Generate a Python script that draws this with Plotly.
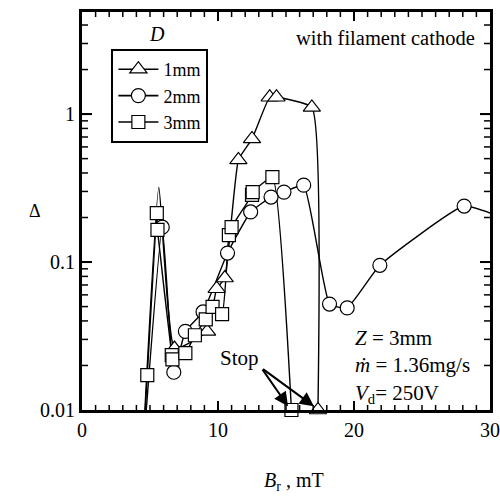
import plotly.graph_objects as go
import math

# ---- data ----
x_1mm = [4.4, 5.65, 6.8, 9.2, 9.9, 10.5, 11.5, 12.5, 13.8, 14.3, 16.9, 17.35]
y_1mm = [0.004, 0.32, 0.026, 0.034, 0.066, 0.078, 0.49, 0.68, 1.30, 1.30, 1.11, 0.01]
hidden_1mm = [0, 1]

x_2mm = [4.4, 5.9, 6.75, 7.6, 8.9, 10.7, 12.4, 13.9, 14.85, 16.3, 18.2, 19.5, 21.9, 28.1, 31.5]
y_2mm = [0.004, 0.172, 0.018, 0.034, 0.046, 0.115, 0.218, 0.275, 0.297, 0.331, 0.052, 0.049, 0.095, 0.239, 0.19]
hidden_2mm = [0, 14]

x_3mm = [4.4, 4.8, 5.5, 5.55, 6.6, 6.65, 7.6, 8.3, 9.1, 9.6, 10.3, 10.8, 11.0, 12.5, 12.55, 14.0, 15.4]
y_3mm = [0.004, 0.0172, 0.214, 0.165, 0.0235, 0.022, 0.0242, 0.032, 0.041, 0.0497, 0.0445, 0.152, 0.172, 0.284, 0.297, 0.375, 0.01]
hidden_3mm = [0]

x_major = [0, 10, 20, 30]
x_minor = [v for v in range(1, 30) if v % 10]
y_major = [0.01, 0.1, 1]
y_minor = [v * 10.0 ** e for e in (-2, -1, 0) for v in range(2, 10) if v * 10.0 ** e < 5]

X_RANGE = [0, 30]
Y_RANGE = [-2, 0.69]

series = [
    ("1mm", x_1mm, y_1mm, hidden_1mm, "triangle-up", 15),
    ("2mm", x_2mm, y_2mm, hidden_2mm, "circle", 14),
    ("3mm", x_3mm, y_3mm, hidden_3mm, "square", 13),
]

FONT = "Liberation Serif"
W, H = 500, 496
ML, MR, MT, MB = 82, 10, 12, 86
PW, PH = W - ML - MR, H - MT - MB

fig = go.Figure()

for name, xs, ys, hid, sym, sz in series:
    fig.add_trace(go.Scatter(x=xs, y=ys, mode="lines",
                             line=dict(color="black", width=1.4, shape="spline", smoothing=0.4),
                             showlegend=False, hoverinfo="skip"))
for name, xs, ys, hid, sym, sz in series:
    mx = [x for i, x in enumerate(xs) if i not in hid]
    my = [y for i, y in enumerate(ys) if i not in hid]
    fig.add_trace(go.Scatter(x=mx, y=my, mode="markers", cliponaxis=False,
                             marker=dict(symbol=sym, size=sz, color="white",
                                         line=dict(color="black", width=1.2)),
                             showlegend=False))
for name, xs, ys, hid, sym, sz in series:
    fig.add_trace(go.Scatter(x=[None], y=[None], mode="lines+markers", name=name,
                             line=dict(color="black", width=1.6),
                             marker=dict(symbol=sym, size=sz, color="white",
                                         line=dict(color="black", width=1.2))))

# tick marks on all four sides (inside), placed from the axis tick values
shapes = []
def xtick(v, length, width):
    px = (v - X_RANGE[0]) / (X_RANGE[1] - X_RANGE[0])
    f = length / PH
    for a, b in ((0, f), (1, 1 - f)):
        shapes.append(dict(type="line", xref="paper", yref="paper", x0=px, x1=px, y0=a, y1=b,
                           line=dict(color="black", width=width), layer="above"))
def ytick(v, length, width):
    py = (math.log10(v) - Y_RANGE[0]) / (Y_RANGE[1] - Y_RANGE[0])
    f = length / PW
    for a, b in ((0, f), (1, 1 - f)):
        shapes.append(dict(type="line", xref="paper", yref="paper", x0=a, x1=b, y0=py, y1=py,
                           line=dict(color="black", width=width), layer="above"))
for v in x_major[1:-1]:
    xtick(v, 9, 2)
for v in x_minor:
    xtick(v, 5, 1.5)
for v in y_major[1:]:
    ytick(v, 10, 2)
for v in y_minor:
    ytick(v, 6, 1.5)

anns = [
    dict(xref="paper", yref="paper", x=0.184, y=0.945, text="<i>D</i>", showarrow=False,
         font=dict(size=20), xanchor="center", yanchor="middle"),
    dict(xref="paper", yref="paper", x=0.743, y=0.935, text="with filament cathode", showarrow=False,
         font=dict(size=20.5), xanchor="center", yanchor="middle"),
    dict(xref="paper", yref="paper", x=-0.115, y=0.50, text="Δ", showarrow=False,
         font=dict(size=18), xanchor="center", yanchor="middle"),
    dict(xref="paper", yref="paper", x=0.52, y=-0.18, text="<i>B</i><sub>r</sub> , mT", showarrow=False,
         font=dict(size=20), xanchor="center", yanchor="middle"),
    dict(xref="paper", yref="paper", x=0.665, y=0.11,
         text="<i>Z</i> = 3mm<br><i>ṁ</i> = 1.36mg/s<br><i>V</i><sub>d</sub>= 250V",
         showarrow=False, align="left", font=dict(size=21), xanchor="left", yanchor="middle"),
    dict(x=11.6, y=math.log10(0.0224), text="Stop", showarrow=False,
         font=dict(size=21), xanchor="center", yanchor="middle"),
]
for hx in (15.15, 17.05):
    anns.append(dict(x=hx, y=math.log10(0.0106), ax=13.2, ay=math.log10(0.0192),
                     axref="x", ayref="y", xref="x", yref="y", text="", showarrow=True,
                     arrowhead=2, arrowsize=1.4, arrowwidth=2, arrowcolor="black"))

fig.update_layout(
    template="none",
    width=W, height=H,
    margin=dict(l=ML, r=MR, t=MT, b=MB, autoexpand=False),
    paper_bgcolor="white", plot_bgcolor="white",
    font=dict(family=FONT, size=20, color="black"),
    showlegend=True,
    legend=dict(x=0.072, y=0.907, xanchor="left", yanchor="top",
                bordercolor="black", borderwidth=2, bgcolor="white",
                font=dict(size=18), itemwidth=40, tracegroupgap=0),
    annotations=anns,
    shapes=shapes,
)
fig.update_xaxes(range=X_RANGE, tickmode="array", tickvals=x_major, ticks="inside", ticklen=9,
                 tickwidth=2, tickcolor="black",
                 showline=True, linewidth=3, linecolor="black", mirror="allticks",
                 showgrid=False, zeroline=False, tickfont=dict(size=20), automargin=False)
fig.update_yaxes(type="log", range=Y_RANGE, tickmode="array", tickvals=y_major,
                 ticktext=["0.01", "0.1", "1"],
                 ticks="inside", ticklen=10, tickwidth=2, tickcolor="black",
                 showline=True, linewidth=3, linecolor="black", mirror="allticks",
                 showgrid=False, zeroline=False, tickfont=dict(size=20), automargin=False)

fig.write_html("out.html", config={"displayModeBar": False, "staticPlot": True},
               post_script="document.body.style.margin='0';")
